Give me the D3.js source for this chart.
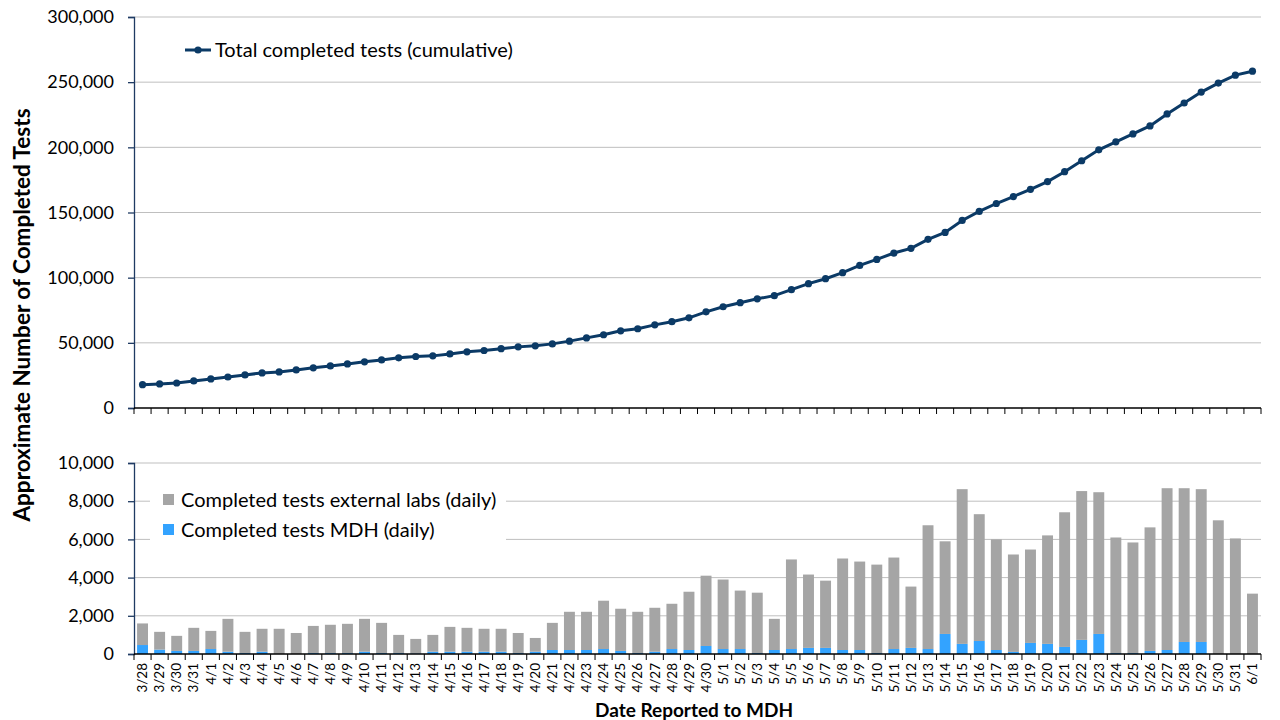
<!DOCTYPE html>
<html><head><meta charset="utf-8">
<script src="https://cdn.jsdelivr.net/npm/d3@7/dist/d3.min.js"></script>
<style>
body{margin:0;background:#fff;}
svg text{font-family:Lato,"Noto Sans",sans-serif;fill:#000;}
</style></head>
<body><svg id="c" width="1280" height="720"></svg>
<script>
const dates = ["3/28","3/29","3/30","3/31","4/1","4/2","4/3","4/4","4/5","4/6","4/7","4/8","4/9","4/10","4/11","4/12","4/13","4/14","4/15","4/16","4/17","4/18","4/19","4/20","4/21","4/22","4/23","4/24","4/25","4/26","4/27","4/28","4/29","4/30","5/1","5/2","5/3","5/4","5/5","5/6","5/7","5/8","5/9","5/10","5/11","5/12","5/13","5/14","5/15","5/16","5/17","5/18","5/19","5/20","5/21","5/22","5/23","5/24","5/25","5/26","5/27","5/28","5/29","5/30","5/31","6/1"];
const cumulative = [17900,18500,19200,20800,22300,23800,25400,26900,27700,29200,30800,32300,33800,35400,36900,38500,39500,40000,41500,43100,44100,45500,46900,47700,49200,51300,53800,56200,59200,60800,63800,66200,69200,73800,77700,80800,83800,86200,90800,95400,99200,103800,109400,114000,118900,122500,129400,134700,143900,150800,156900,162200,167800,173700,181300,189700,198100,204200,210300,216400,225600,234000,242400,249300,255400,258400];
const mdhDaily = [470,230,160,160,260,120,50,120,0,0,50,50,50,120,50,50,30,120,120,120,120,120,50,120,210,210,210,260,160,50,120,260,210,420,260,260,50,210,260,320,320,210,210,50,260,320,260,1050,530,680,210,110,580,530,370,740,1050,50,50,160,210,630,630,0,0,0];
const externalDaily = [1130,930,790,1210,950,1720,1110,1200,1320,1100,1420,1480,1530,1720,1580,950,760,880,1300,1250,1200,1200,1050,720,1420,2000,2000,2530,2210,2160,2300,2370,3050,3680,3640,3060,3160,1630,4690,3840,3520,4790,4630,4630,4790,3210,6480,4850,8100,6640,5790,5100,4890,5680,7050,7790,7420,6050,5790,6470,8470,8050,8000,7000,6050,3160];
const topTicks = [0,50000,100000,150000,200000,250000,300000];
const bottomTicks = [0,2000,4000,6000,8000,10000];
const lineLabel = "Total completed tests (cumulative)";
const extLabel = "Completed tests external labs (daily)";
const mdhLabel = "Completed tests MDH (daily)";
const yTitle = "Approximate Number of Completed Tests";
const xTitle = "Date Reported to MDH";

const navy = "#0b3a66", axisBlue = "#1f3b63", grid = "#bfbfbf", gray = "#a5a5a5", blue = "#33a3ff";
const svg = d3.select("#c");
const L = 134, R = 1261;
const x = d3.scaleBand().domain(dates).range([L, R]).paddingInner(0.36).paddingOuter(0.18);
const xb = d3.scaleBand().domain(dates).range([L, R]);

// ---- top chart
const yT = d3.scaleLinear().domain([0,300000]).range([408,17]);
svg.append("g").selectAll("line").data(topTicks.slice(1)).join("line")
  .attr("x1",L).attr("x2",R).attr("y1",d=>yT(d)).attr("y2",d=>yT(d)).attr("stroke",grid).attr("stroke-width",1);
const gyT = svg.append("g").attr("transform",`translate(${L},0)`)
  .call(d3.axisLeft(yT).tickValues(topTicks).tickFormat(d3.format(",")).tickSize(6).tickPadding(14));
gyT.selectAll("path,line").attr("stroke",axisBlue).attr("stroke-width",1.3);
gyT.selectAll("text").attr("font-size",18).style("font-family","Lato");
svg.append("line").attr("x1",L).attr("x2",R).attr("y1",408).attr("y2",408).attr("stroke","#000").attr("stroke-width",1.3);
svg.append("g").selectAll("line").data(dates.concat(["end"])).join("line")
  .attr("x1",(d,i)=>L+i*xb.step()).attr("x2",(d,i)=>L+i*xb.step())
  .attr("y1",408).attr("y2",414).attr("stroke","#000").attr("stroke-width",1);

const line = d3.line().x((d,i)=>xb(dates[i])+xb.bandwidth()/2).y(d=>yT(d));
svg.append("path").datum(cumulative).attr("d",line).attr("fill","none").attr("stroke",navy).attr("stroke-width",3);
svg.append("g").selectAll("circle").data(cumulative).join("circle")
  .attr("cx",(d,i)=>xb(dates[i])+xb.bandwidth()/2).attr("cy",d=>yT(d)).attr("r",3.6).attr("fill",navy);

// top legend
const lg = svg.append("g").attr("transform","translate(185,50)");
lg.append("line").attr("x1",0).attr("x2",26).attr("stroke",navy).attr("stroke-width",3);
lg.append("circle").attr("cx",13).attr("r",3.6).attr("fill",navy);
lg.append("text").attr("x",30).attr("dy","0.35em").attr("font-size",20).text(lineLabel);

// ---- bottom chart
const yB = d3.scaleLinear().domain([0,10000]).range([654,463]);
svg.append("g").selectAll("line").data(bottomTicks.slice(1)).join("line")
  .attr("x1",L).attr("x2",R).attr("y1",d=>yB(d)).attr("y2",d=>yB(d)).attr("stroke",grid).attr("stroke-width",1);
const stackData = dates.map((d,i)=>({date:d, mdh:mdhDaily[i], ext:externalDaily[i]}));
const series = d3.stack().keys(["mdh","ext"])(stackData);
const colors = {mdh:blue, ext:gray};
svg.append("g").selectAll("g").data(series).join("g").attr("fill",s=>colors[s.key])
  .selectAll("rect").data(s=>s).join("rect")
  .attr("x",d=>x(d.data.date)).attr("width",x.bandwidth())
  .attr("y",d=>yB(d[1])).attr("height",d=>yB(d[0])-yB(d[1]));
const gyB = svg.append("g").attr("transform",`translate(${L},0)`)
  .call(d3.axisLeft(yB).tickValues(bottomTicks).tickFormat(d3.format(",")).tickSize(6).tickPadding(14));
gyB.selectAll("path,line").attr("stroke",axisBlue).attr("stroke-width",1.3);
gyB.selectAll("text").attr("font-size",18).style("font-family","Lato");
svg.append("line").attr("x1",L).attr("x2",R).attr("y1",654).attr("y2",654).attr("stroke","#000").attr("stroke-width",1.3);
svg.append("g").selectAll("line").data(dates.concat(["end"])).join("line")
  .attr("x1",(d,i)=>L+i*xb.step()).attr("x2",(d,i)=>L+i*xb.step())
  .attr("y1",654).attr("y2",660).attr("stroke","#000").attr("stroke-width",1);
svg.append("g").selectAll("text").data(dates).join("text")
  .attr("transform",d=>`translate(${xb(d)+xb.bandwidth()/2},663) rotate(-90)`)
  .attr("text-anchor","end").attr("dy","0.35em").attr("font-size",13.5).text(d=>d);

// bottom legend
const bl = svg.append("g");
bl.append("rect").attr("x",150).attr("y",478).attr("width",356).attr("height",64).attr("fill","#fff");
bl.append("rect").attr("x",163).attr("y",494).attr("width",11).attr("height",11).attr("fill",gray);
bl.append("text").attr("x",181).attr("y",500).attr("dy","0.35em").attr("font-size",20).text(extLabel);
bl.append("rect").attr("x",163).attr("y",524).attr("width",11).attr("height",11).attr("fill",blue);
bl.append("text").attr("x",181).attr("y",530).attr("dy","0.35em").attr("font-size",20).text(mdhLabel);

// titles
svg.append("text").attr("transform","translate(30,315) rotate(-90)").attr("text-anchor","middle")
  .attr("font-size",22.5).attr("font-weight","bold").text(yTitle);
svg.append("text").attr("x",694).attr("y",717).attr("text-anchor","middle")
  .attr("font-size",19).attr("font-weight","bold").text(xTitle);
</script></body></html>
